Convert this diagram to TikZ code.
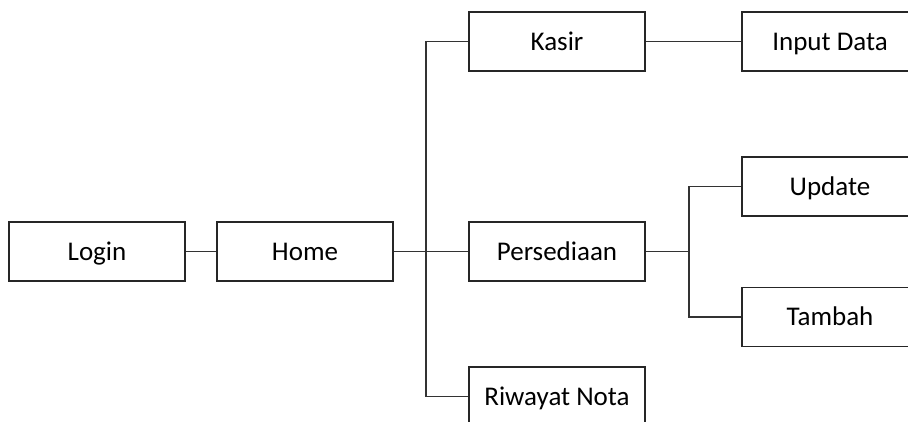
\documentclass[tikz,border=0pt]{standalone}
\usepackage{fontspec}
\setmainfont{Carlito}
\begin{document}
\begin{tikzpicture}[x=1pt,y=-1pt,
  menubox/.style={draw=black!85, line width=1.3pt, minimum width=176pt, minimum height=59pt,
    inner sep=0pt, text height=17.6pt, text depth=0pt,
    font=\fontsize{27}{30}\selectfont, fill=white},
  link/.style={draw=black!80, line width=1.3pt}]
\useasboundingbox (0,0) rectangle (908,421);
% menu boxes
\node[menubox] (login) at (97,251.5) {Login};
\node[menubox] (home) at (305,251.5) {Home};
\node[menubox] (kasir) at (557,41.5) {Kasir};
\node[menubox] (sedia) at (557,251.5) {Persediaan};
\node[menubox] (nota) at (557,396.5) {Riwayat Nota};
\node[menubox] (input) at (830,41.5) {Input Data};
\node[menubox] (update) at (830,186.5) {Update};
\node[menubox] (tambah) at (830,317) {Tambah};
% branch points
\coordinate (trunk) at (426,251.5);
\coordinate (fork) at (689,251.5);
% connectors
\draw[link] (login.east) -- (home.west);
\draw[link] (home.east) -- (sedia.west);
\draw[link] (kasir.west) -| (trunk) |- (nota.west);
\draw[link] (kasir.east) -- (input.west);
\draw[link] (sedia.east) -- (fork);
\draw[link] (update.west) -| (fork) |- (tambah.west);
\end{tikzpicture}
\end{document}
